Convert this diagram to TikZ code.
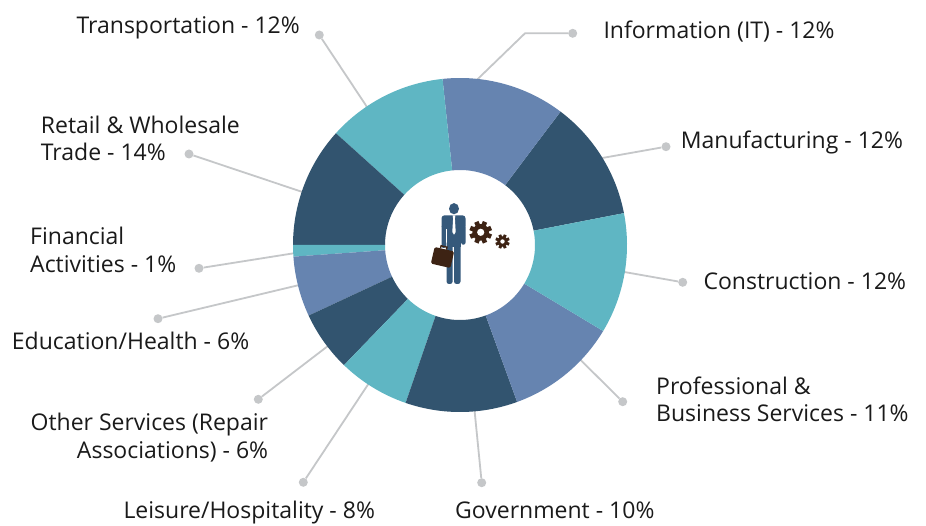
\documentclass[tikz,border=0pt]{standalone}
\usepackage{fontspec}
\setmainfont{Open Sans}
\definecolor{teal1}{HTML}{5FB6C3}
\definecolor{blue1}{HTML}{6684B0}
\definecolor{dark1}{HTML}{32546F}
\definecolor{lead}{HTML}{C5C7C9}
\definecolor{txt}{HTML}{1A1A1A}
\definecolor{person}{HTML}{35597B}
\definecolor{brownc}{HTML}{3D2314}
\newcommand\donutseg[3]{\fill[#3] (C) ++(#1:167) arc[start angle=#1,end angle=#2,radius=167] -- ++(#2:-92) arc[start angle=#2,end angle=#1,radius=75] -- cycle;}
\newcommand\drawgear[6]{%
  \fill[brownc] (#1,#2) circle[radius=#3];
  \foreach \a in {0,45,...,315} {\fill[brownc, shift={(#1,#2)}, rotate=\a+22.5] (-#5,0) rectangle (#5,#4);}
  \fill[white] (#1,#2) circle[radius=#6];}
\begin{document}
\begin{tikzpicture}[x=1pt,y=1pt,
  lbl/.style={inner sep=0pt, text=txt, font=\fontsize{23}{27.7}\selectfont},
  leader/.style={draw=lead, line width=1.8pt},
  dot/.style={circle, fill=lead, inner sep=0pt, minimum size=9pt},
]
\fill[white] (0,0) rectangle (926,525);
\useasboundingbox (0,0) rectangle (926,525);
\coordinate (C) at (460,280);

% leader start points on the ring
\path (C) ++(124:160) coordinate (eT);
\path (C) ++(161.4:160) coordinate (eR);
\path (C) ++(182.6:160) coordinate (eF);
\path (C) ++(194:160) coordinate (eE);
\path (C) ++(217.4:160) coordinate (eO);
\path (C) ++(236.6:160) coordinate (eL);
\path (C) ++(275:160) coordinate (eG);
\path (C) ++(316.4:160) coordinate (eP);
\path (C) ++(350.7:160) coordinate (eC);
\path (C) ++(32.4:160) coordinate (eM);
\path (C) ++(86:160) coordinate (eI);
\coordinate (kI) at (525,491.7);

% dots
\node[dot] (dT) at (319.3,490) {};
\node[dot] (dR) at (189,371) {};
\node[dot] (dF) at (199,256.7) {};
\node[dot] (dE) at (158,206.3) {};
\node[dot] (dO) at (258.3,125.7) {};
\node[dot] (dL) at (303.3,42.7) {};
\node[dot] (dG) at (481.7,42.3) {};
\node[dot] (dP) at (622.7,123.3) {};
\node[dot] (dC) at (682.7,242.7) {};
\node[dot] (dM) at (666,378.3) {};
\node[dot] (dI) at (572.7,491.7) {};

% leaders
\draw[leader] (eT) -- (dT);
\draw[leader] (eR) -- (dR);
\draw[leader] (eF) -- (dF);
\draw[leader] (eE) -- (dE);
\draw[leader] (eO) -- (dO);
\draw[leader] (eL) -- (dL);
\draw[leader] (eG) -- (dG);
\draw[leader] (eP) -- (dP);
\draw[leader] (eC) -- (dC);
\draw[leader] (eM) -- (dM);
\draw[leader] (eI) -- (kI) -- (dI);

% ring
\donutseg{11}{53}{dark1}
\donutseg{53}{96}{blue1}
\donutseg{96}{138}{teal1}
\donutseg{138}{180}{dark1}
\donutseg{180}{184}{teal1}
\donutseg{184}{205}{blue1}
\donutseg{205}{226}{dark1}
\donutseg{226}{251}{teal1}
\donutseg{251}{290}{dark1}
\donutseg{290}{329}{blue1}
\donutseg{329}{371}{teal1}

% person icon
\fill[person] (454,316.3) ellipse[x radius=5, y radius=5.6];
\fill[person, rounded corners=3] (441.5,296) rectangle (465.5,309.7);
\fill[person] (446.5,278) rectangle (460.5,302);
\fill[person, rounded corners=2] (441.5,277) rectangle (445.8,300);
\fill[person, rounded corners=2] (461.2,280.3) rectangle (465.5,300);
\fill[person, rounded corners=2.5] (446.5,241) rectangle (452.6,284);
\fill[person, rounded corners=2.5] (454,241) rectangle (460.5,284);
\fill[white] (452.6,309.7) -- (455.4,309.7) -- (454.9,306.5) -- (455.7,293) -- (454,290.3) -- (452.3,293) -- (453.1,306.5) -- cycle;
\begin{scope}[rotate around={-13:(442.5,267.5)}]
  \fill[brownc, rounded corners=1.5] (432.5,259) rectangle (452.5,276);
  \draw[brownc, line width=1.4pt] (438.5,276) -- (438.5,278.6) -- (444.5,278.6) -- (444.5,276);
\end{scope}
\drawgear{480.7}{292.7}{8.3}{11.3}{2.3}{3.6}
\drawgear{502.5}{283.5}{5.2}{7.2}{1.5}{2.2}

% labels (multi-line nodes: base = last line)
\node[lbl, anchor=base east] (tT) at (300,491.7) {Transportation - 12\%};
\node[lbl, anchor=base west, align=left] (tR) at (40.7,364) {Retail \& Wholesale\\Trade - 14\%};
\node[lbl, anchor=base west, align=left] (tF) at (30,252.7) {Financial\\Activities - 1\%};
\node[lbl, anchor=base west] (tE) at (11.7,175) {Education/Health - 6\%};
\node[lbl, anchor=base east, align=right] (tO) at (268.3,66.7) {Other Services (Repair\\Associations) - 6\%};
\node[lbl, anchor=base west] (tL) at (123.3,6.7) {Leisure/Hospitality - 8\%};
\node[lbl, anchor=base west] (tG) at (455,6.7) {Government - 10\%};
\node[lbl, anchor=base west, align=left] (tP) at (656,103.3) {Professional \&\\Business Services - 11\%};
\node[lbl, anchor=base west] (tC) at (703.3,235) {Construction - 12\%};
\node[lbl, anchor=base west] (tM) at (680.7,376) {Manufacturing - 12\%};
\node[lbl, anchor=base west] (tI) at (603.3,486) {Information (IT) - 12\%};
\end{tikzpicture}
\end{document}
